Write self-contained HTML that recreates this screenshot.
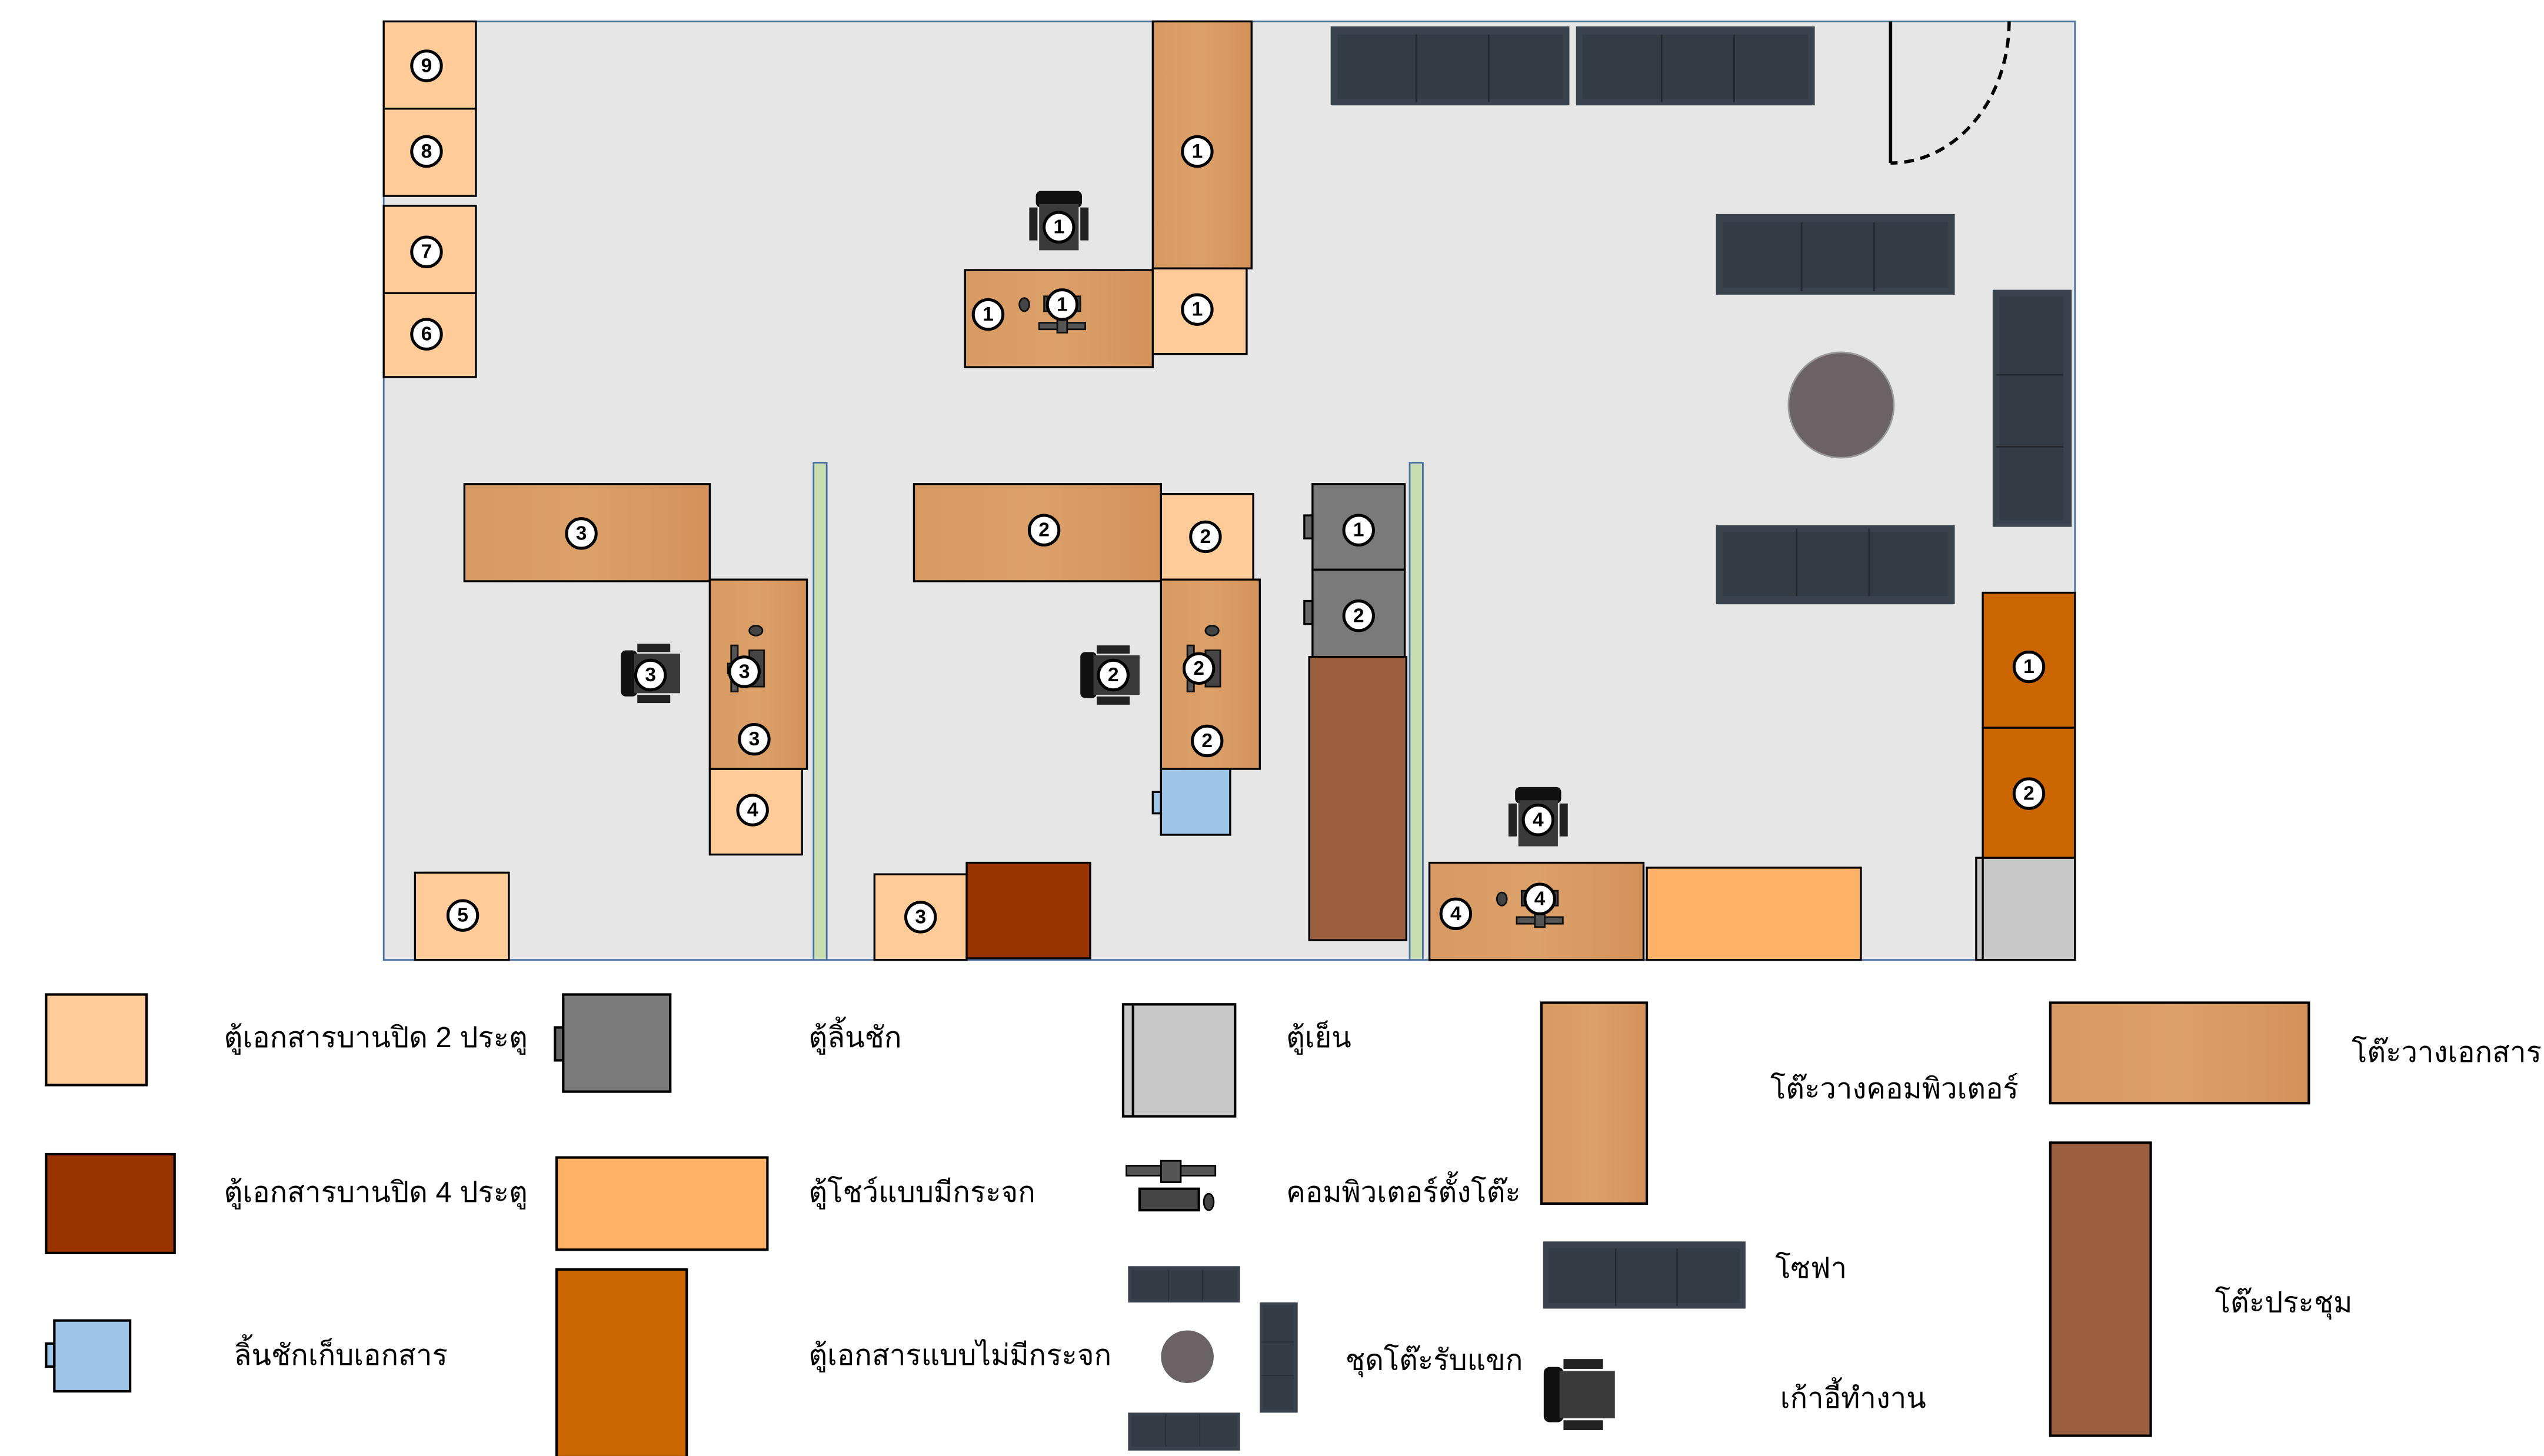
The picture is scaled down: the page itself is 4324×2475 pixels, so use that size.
<!DOCTYPE html>
<html><head><meta charset="utf-8"><style>
html,body{margin:0;padding:0;background:#fff;width:4324px;height:2475px;overflow:hidden}
svg{display:block}
text{font-family:"Liberation Sans","DejaVu Sans","Noto Sans CJK SC",sans-serif}
.lg{font-size:17.5px;fill:#000}
.n{font-size:12px;font-weight:bold;text-anchor:middle;dominant-baseline:central}
</style></head><body>
<svg width="4324" height="2475" viewBox="0 0 1544.8 884.3" preserveAspectRatio="none" xmlns="http://www.w3.org/2000/svg">
<defs>
<linearGradient id="wv" x1="0" y1="0" x2="1" y2="0"><stop offset="0" stop-color="#d89a62"/><stop offset=".5" stop-color="#dca06a"/><stop offset="1" stop-color="#d4925a"/></linearGradient>
<g id="sofaH"><rect x="0" y="0" width="145" height="48" fill="#3a434d"/><rect x="4" y="5" width="137" height="39" fill="#333c45"/><line x1="52" y1="5" x2="52" y2="46" stroke="#22282e"/><line x1="96" y1="5" x2="96" y2="46" stroke="#22282e"/></g>
<g id="chair"><rect x="-18" y="-8" width="5" height="20" fill="#222"/><rect x="13" y="-8" width="5" height="20" fill="#222"/><rect x="-14" y="-18" width="28" height="10" rx="3" fill="#111"/><rect x="-12" y="-10" width="24" height="28" fill="#3a3a3a"/></g>
<g id="pc"><rect x="-11" y="-6" width="22" height="9" fill="#444" stroke="#111"/><rect x="-21" y="10" width="28" height="4" fill="#555" stroke="#111" transform="translate(7,0)"/><rect x="-3" y="8" width="6" height="8" fill="#555" stroke="#111"/><ellipse cx="-23" cy="-1" rx="3" ry="4" fill="#444" stroke="#111"/></g>
</defs>
<rect width="1544.8" height="884.3" fill="#fff"/>
<rect x="233" y="13" width="1027" height="570" fill="#e6e6e6" stroke="#4a6fa5" stroke-width="1"/>
<g fill="#ffcc99" stroke="#000" stroke-width="1.2">
<rect x="233" y="13" width="56" height="53"/><rect x="233" y="66" width="56" height="53"/>
<rect x="233" y="125" width="56" height="53"/><rect x="233" y="178" width="56" height="51"/>
<rect x="700" y="163" width="57" height="52"/>
<rect x="705" y="300" width="56" height="53"/>
<rect x="431" y="467" width="56" height="52"/>
<rect x="252" y="530" width="57" height="53"/>
<rect x="531" y="531" width="56" height="52"/>
</g>
<g fill="url(#wv)" stroke="#000" stroke-width="1.2">
<rect x="700" y="13" width="60" height="150"/>
<rect x="586" y="164" width="114" height="59"/>
<rect x="282" y="294" width="149" height="59"/>
<rect x="431" y="352" width="59" height="115"/>
<rect x="555" y="294" width="150" height="59"/>
<rect x="705" y="352" width="60" height="115"/>
<rect x="868" y="524" width="130" height="59"/>
</g>
<use href="#pc" transform="translate(645,186)"/>
<use href="#pc" transform="translate(935,547)"/>
<g transform="translate(458,406) rotate(90)"><use href="#pc"/></g>
<g transform="translate(735,406) rotate(90)"><use href="#pc"/></g>
<use href="#chair" transform="translate(643,134)"/>
<use href="#chair" transform="translate(934,496)"/>
<g transform="translate(395,409) rotate(-90)"><use href="#chair"/></g>
<g transform="translate(674,410) rotate(-90)"><use href="#chair"/></g>
<use href="#sofaH" transform="translate(808,16)"/>
<use href="#sofaH" transform="translate(957,16)"/>
<use href="#sofaH" transform="translate(1042,130) scale(1,1.02)"/>
<use href="#sofaH" transform="translate(1187,367) rotate(180)"/>
<g transform="translate(1258,176) rotate(90)"><use href="#sofaH" transform="scale(0.993,1)"/></g>
<circle cx="1118" cy="246" r="32" fill="#6b6266" stroke="#999" stroke-width="1"/>
<line x1="1148" y1="13" x2="1148" y2="99" stroke="#000" stroke-width="2"/>
<path d="M1220 13 A72 86 0 0 1 1148 99" fill="none" stroke="#000" stroke-width="2" stroke-dasharray="6,4"/>
<g stroke="#000" stroke-width="1.2">
<rect x="1204" y="360" width="56" height="82" fill="#cc6600"/>
<rect x="1204" y="442" width="56" height="79" fill="#cc6600"/>
<rect x="1200" y="521" width="60" height="62" fill="#c8c8c8"/>
<line x1="1204" y1="521" x2="1204" y2="583"/>
<rect x="797" y="294" width="56" height="52" fill="#7a7a7a"/>
<rect x="797" y="346" width="56" height="53" fill="#7a7a7a"/>
<rect x="792" y="313" width="5" height="14" fill="#666"/>
<rect x="792" y="365" width="5" height="14" fill="#666"/>
<rect x="795" y="399" width="59" height="172" fill="#9b5f3f"/>
<rect x="705" y="467" width="42" height="40" fill="#9fc5e8"/>
<rect x="700" y="481" width="5" height="13" fill="#9fc5e8"/>
<rect x="1000" y="527" width="130" height="56" fill="#ffb266"/>
<rect x="587" y="524" width="75" height="58" fill="#993300"/>
</g>
<rect x="494" y="281" width="8" height="302" fill="#c9deb0" stroke="#4a6fa5"/>
<rect x="856" y="281" width="8" height="302" fill="#c9deb0" stroke="#4a6fa5"/>
<g fill="#fff" stroke="#000" stroke-width="1.8">
<circle cx="259" cy="40" r="9"/><circle cx="259" cy="92" r="9"/><circle cx="259" cy="153" r="9"/><circle cx="259" cy="203" r="9"/>
<circle cx="727" cy="92" r="9"/><circle cx="727" cy="188" r="9"/><circle cx="600" cy="191" r="9"/><circle cx="645" cy="185" r="9"/><circle cx="643" cy="138" r="9"/>
<circle cx="353" cy="324" r="9"/><circle cx="452" cy="408" r="9"/><circle cx="458" cy="449" r="9"/><circle cx="457" cy="492" r="9"/><circle cx="395" cy="410" r="9"/>
<circle cx="634" cy="322" r="9"/><circle cx="732" cy="326" r="9"/><circle cx="728" cy="406" r="9"/><circle cx="733" cy="450" r="9"/><circle cx="676" cy="410" r="9"/>
<circle cx="825" cy="322" r="9"/><circle cx="825" cy="374" r="9"/>
<circle cx="934" cy="498" r="9"/><circle cx="884" cy="555" r="9"/><circle cx="935" cy="546" r="9"/>
<circle cx="1232" cy="405" r="9"/><circle cx="1232" cy="482" r="9"/>
<circle cx="281" cy="556" r="9"/><circle cx="559" cy="557" r="9"/>
</g>
<g class="n">
<text x="259" y="40">9</text><text x="259" y="92">8</text><text x="259" y="153">7</text><text x="259" y="203">6</text>
<text x="727" y="92">1</text><text x="727" y="188">1</text><text x="600" y="191">1</text><text x="645" y="185">1</text><text x="643" y="138">1</text>
<text x="353" y="324">3</text><text x="452" y="408">3</text><text x="458" y="449">3</text><text x="457" y="492">4</text><text x="395" y="410">3</text>
<text x="634" y="322">2</text><text x="732" y="326">2</text><text x="728" y="406">2</text><text x="733" y="450">2</text><text x="676" y="410">2</text>
<text x="825" y="322">1</text><text x="825" y="374">2</text>
<text x="934" y="498">4</text><text x="884" y="555">4</text><text x="935" y="546">4</text>
<text x="1232" y="405">1</text><text x="1232" y="482">2</text>
<text x="281" y="556">5</text><text x="559" y="557">3</text>
</g>
<g stroke="#000" stroke-width="1.5">
<rect x="28" y="604" width="61" height="55" fill="#ffcc99"/>
<rect x="28" y="701" width="78" height="60" fill="#993300"/>
<rect x="28" y="816" width="5" height="14" fill="#9fc5e8"/>
<rect x="33" y="802" width="46" height="43" fill="#9fc5e8"/>
<rect x="337" y="624" width="6" height="20" fill="#666"/>
<rect x="342" y="604" width="65" height="59" fill="#7a7a7a"/>
<rect x="338" y="703" width="128" height="56" fill="#ffb266"/>
<rect x="338" y="771" width="79" height="114" fill="#cc6600"/>
<rect x="682" y="610" width="68" height="68" fill="#c8c8c8"/>
<line x1="688" y1="610" x2="688" y2="678"/>
<rect x="936" y="609" width="64" height="122" fill="url(#wv)"/>
<rect x="1245" y="609" width="157" height="61" fill="url(#wv)"/>
<rect x="1245" y="694" width="61" height="178" fill="#9b5f3f"/>
</g>
<g transform="translate(712,712)"><rect x="-28" y="-4" width="54" height="6" fill="#555" stroke="#000"/><rect x="-7" y="-7" width="12" height="13" fill="#555" stroke="#000"/><rect x="-20" y="10" width="36" height="13" fill="#444" stroke="#000" stroke-width="1.5"/><ellipse cx="22" cy="18" rx="3" ry="5" fill="#444" stroke="#000"/></g>
<use href="#sofaH" transform="translate(685,769) scale(0.469,0.46)"/>
<use href="#sofaH" transform="translate(753,881) rotate(180) scale(0.469,0.48)"/>
<g transform="translate(788,791) rotate(90)"><use href="#sofaH" transform="scale(0.462,0.48)"/></g>
<ellipse cx="721" cy="824" rx="16" ry="16" fill="#6b6266"/>
<use href="#sofaH" transform="translate(937,754) scale(0.848,0.85)"/>
<g transform="translate(959,847) rotate(-90) scale(1.2)"><use href="#chair"/></g>
<g class="lg">
<text x="136" y="636">ตู้เอกสารบานปิด 2 ประตู</text>
<text x="136" y="730">ตู้เอกสารบานปิด 4 ประตู</text>
<text x="142" y="829">ลิ้นชักเก็บเอกสาร</text>
<text x="491" y="636">ตู้ลิ้นชัก</text>
<text x="491" y="730">ตู้โชว์แบบมีกระจก</text>
<text x="491" y="829">ตู้เอกสารแบบไม่มีกระจก</text>
<text x="781" y="636">ตู้เย็น</text>
<text x="781" y="730">คอมพิวเตอร์ตั้งโต๊ะ</text>
<text x="817" y="832">ชุดโต๊ะรับแขก</text>
<text x="1075" y="667">โต๊ะวางคอมพิวเตอร์</text>
<text x="1078" y="776">โซฟา</text>
<text x="1081" y="855">เก้าอี้ทำงาน</text>
<text x="1428" y="645">โต๊ะวางเอกสาร</text>
<text x="1345" y="797">โต๊ะประชุม</text>
</g>
</svg>
</body></html>
